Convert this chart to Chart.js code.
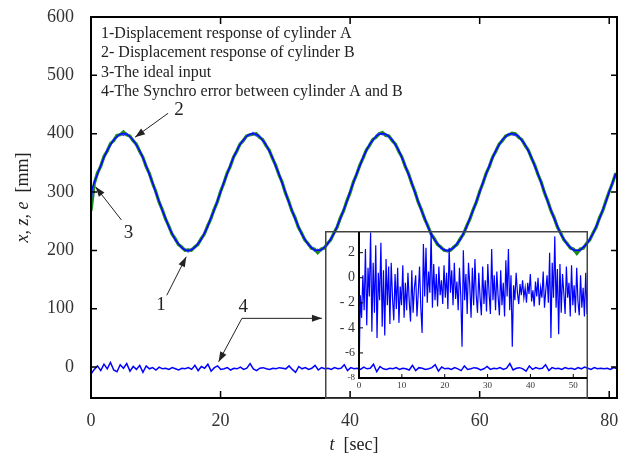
<!DOCTYPE html>
<html>
<head>
<meta charset="utf-8">
<script src="https://cdn.jsdelivr.net/npm/chart.js@4.4.1/dist/chart.umd.min.js"></script>
<style>
html, body { margin: 0; padding: 0; background: #fff; }
#wrap { position: relative; width: 626px; height: 458px; }
#mainChart { position: absolute; left: 0; top: 0; }
#insetChart { position: absolute; left: 325px; top: 231px; }
</style>
</head>
<body>
<div id="wrap">
  <canvas id="mainChart" width="626" height="458"></canvas>
  <canvas id="insetChart" width="263" height="168"></canvas>
</div>
<script>
// displacement curves, one sample every 0.5 s from t = 0
const sampleStep = 0.5;
const idealInput = [
  300,316,331,345,359,371,381,389,395,399,400,399,395,389,381,371,359,345,331,316,300,284,269,255,241,229,219,211,205,201,200,201,205,211,219,229,241,255,269,284,
  300,316,331,345,359,371,381,389,395,399,400,399,395,389,381,371,359,345,331,316,300,284,269,255,241,229,219,211,205,201,200,201,205,211,219,229,241,255,269,284,
  300,316,331,345,359,371,381,389,395,399,400,399,395,389,381,371,359,345,331,316,300,284,269,255,241,229,219,211,205,201,200,201,205,211,219,229,241,255,269,284,
  300,316,331,345,359,371,381,389,395,399,400,399,395,389,381,371,359,345,331,316,300,284,269,255,241,229,219,211,205,201,200,201,205,211,219,229,241,255,269,284,
  300,316,331
];
const cylinderA = [
  285,318,329,347,357,373,379,391,393,400,397,401,394,390,379,372,357,347,329,317,298,286,267,256,239,231,217,212,203,202,197,203,204,213,217,231,239,257,267,286,
  299,318,329,347,360,369,383,387,396,397,402,396,397,387,383,369,361,343,333,314,302,282,271,253,243,227,221,209,207,199,202,199,206,209,221,227,243,253,271,282,
  302,314,333,343,361,369,383,387,397,401,398,400,393,391,379,373,357,347,329,318,298,286,267,257,239,231,217,213,203,203,198,203,203,213,217,231,239,257,267,286,
  298,318,329,347,357,373,379,391,393,400,398,397,397,387,383,369,361,343,333,314,302,282,271,253,243,227,221,209,207,199,201,199,207,209,221,227,243,253,271,282,
  302,314,333
];
const cylinderB = [
  268,314,333,344,361,370,383,388,397,398,403,398,396,388,382,370,360,344,332,315,301,283,270,254,242,228,220,210,206,200,201,200,206,210,220,228,242,254,270,283,
  301,315,332,344,360,370,382,388,396,398,399,400,394,390,380,372,358,346,330,317,299,285,268,256,240,230,218,212,204,202,196,202,204,212,218,230,240,256,268,285,
  299,317,330,346,358,372,380,390,394,400,402,397,396,388,382,370,360,344,332,315,301,283,270,254,242,228,220,210,206,200,199,200,206,210,220,228,242,254,270,283,
  301,315,332,344,360,370,382,388,396,398,401,400,394,390,380,372,358,346,330,317,299,285,268,256,240,230,218,212,204,202,195,202,204,212,218,230,240,256,268,285,
  301,315,332
];
// synchro error, spread evenly over the whole time axis
const syncError = [
  -12,-4,2,-6,5,-3,8,-5,-8,4,-2,6,-7,1,-4,3,-9,2,-3,-1,
  -5,0,-3,-2,-4,-1,-3,-5,-2,-3,-1,-4,3,-6,1,-2,5,-7,-1,2,
  -4,-3,-1,-5,-2,-3,0,-4,-2,6,-3,-6,-2,-1,-3,-4,-2,-3,-1,-2,
  -3,2,-4,-9,1,-3,-1,-4,-2,3,-5,-1,-3,-2,-4,-1,-3,-2,4,-6,
  -1,-3,-2,-4,0,-3,-2,5,-8,1,-3,-4,-2,-3,-1,-4,-2,-3,-5,3,
  -6,-1,-2,-4,-3,-1,4,-7,0,-3,-2,-4,-1,-3,-6,2,-4,-3,-1,-2,
  -5,-3,1,-4,-2,-3,-1,-4,-2,6,-5,-2,-1,-3,-7,2,-4,-1,-3,-2,
  4,-6,-1,-3,-2,-4,-1,-3,-2,-4,-1,-3,0,-2,-4,-1,-3,-2,-3,-2,
  -4,-1,-3
];
// zoomed synchro error shown in the inset, spread over 0..53.2 s
const insetError = [
  -8,-1.4,-3.2,0.2,-2.6,2.3,-3.8,0.8,-1.5,3.6,
  -4.3,1.2,-2.8,2.6,-4.8,0.4,-1.8,2.8,-3.9,0.6,
  -4.6,1.5,-2.2,0.9,-3.7,1.2,-1.6,-3.4,0.3,-2.5,
  0.8,-3.6,-0.7,-2.2,1,-3.2,-0.4,-2.6,0.4,-1.9,
  -3.5,0.6,-2.8,-0.8,0.2,-3.1,-1.2,0.9,-2.4,-4.4,
  2.7,-1.5,2.4,-2,0.5,-1.2,3.6,-2.4,1.1,-1.8,
  0.3,-2.3,0.9,-1.4,-0.2,-2.1,1,-1.6,0.4,-2.5,
  2.4,-1.2,0.6,-2.2,1.2,-1.7,-0.3,-2.6,0.8,-1.4,
  -5.5,2.2,-1.8,0.3,-2.9,1.2,-0.6,-3.2,0.8,-2.2,
  1.5,-1.4,-2.8,0.4,-1.6,-3,0.9,-2.1,-0.2,-2.7,
  1.1,-1.3,-2.9,2.3,-1.8,0.2,-2.6,0.5,-1.5,-3,
  0.6,-2.2,-0.4,-3.1,1.4,-1.5,2.3,-2.6,0.2,-5.5,
  -0.6,-1.8,0.4,-1.2,-2.1,-0.5,-1.4,-0.2,-1.6,-0.8,
  -2,-0.4,-1.3,0.3,-1.9,-1,-2.3,-0.3,-1.5,0,
  -2.2,-0.8,-1.6,0.5,-2.4,-1,0.2,-2,2,-4.8,
  1.2,-1.6,3.3,-2.4,0.7,-4.5,1.1,-2.8,0.3,-1.2,
  -2.9,0.9,-1.6,-0.4,-3.1,1,-2.2,-0.6,-2.8,0.8,
  -1.9,-3,0.2,-2.4,-0.8,-3.1,0.4,-2.9
];

const xTicks = [0, 20, 40, 60, 80];
const yTicks = [0, 100, 200, 300, 400, 500, 600];
const insetXTicks = [0, 10, 20, 30, 40, 50];
const insetYTicks = [-8, -6, -4, -2, 0, 2];
const insetYLabels = ['-8', '-6', '- 4', '- 2', '0', '2'];

const legendLines = [
  '1-Displacement response of cylinder A',
  '2- Displacement response of cylinder B',
  '3-The ideal input',
  '4-The Synchro error between cylinder A and B'
];

const xMax = 81.2, yMin = -53, yMax = 600;
const insetXMax = 53.2, insetYMin = -8, insetYMax = 3.65;

const serif = '"Liberation Serif", "DejaVu Serif", serif';

// numbered callouts: label position, arrow start, arrow tips (data units)
const callouts = [
  { text: '2', at: [13.6, 441], from: [11.9, 435], tips: [[6.8, 394]] },
  { text: '3', at: [5.8, 229], from: [4.7, 252], tips: [[0.7, 309]] },
  { text: '1', at: [10.8, 106], from: [11.7, 123], tips: [[14.7, 189]] },
  { text: '4', at: [23.5, 103], from: [23.3, 83.5], tips: [[35.65, 83.5], [19.7, 9]] }
];

function toPoints(values, step) {
  return values.map((v, i) => ({ x: i * step, y: v }));
}

// keep the plot box exactly where layout.padding and afterFit put it
function noEdgePadding(s) {
  s.paddingTop = 0; s.paddingBottom = 0; s.paddingLeft = 0; s.paddingRight = 0;
}

function arrow(ctx, x1, y1, x2, y2) {
  ctx.beginPath();
  ctx.moveTo(x1, y1);
  ctx.lineTo(x2, y2);
  ctx.stroke();
  const ang = Math.atan2(y2 - y1, x2 - x1);
  const len = 10, half = 3.5;
  ctx.beginPath();
  ctx.moveTo(x2, y2);
  ctx.lineTo(x2 - len * Math.cos(ang) + half * Math.sin(ang), y2 - len * Math.sin(ang) - half * Math.cos(ang));
  ctx.lineTo(x2 - len * Math.cos(ang) - half * Math.sin(ang), y2 - len * Math.sin(ang) + half * Math.cos(ang));
  ctx.closePath();
  ctx.fill();
}

function drawMixed(ctx, parts, cx, cy) {
  let total = 0;
  parts.forEach(p => { ctx.font = p[1] + serif; total += ctx.measureText(p[0]).width; });
  let px = cx - total / 2;
  ctx.textAlign = 'left';
  parts.forEach(p => {
    ctx.font = p[1] + serif;
    ctx.fillText(p[0], px, cy);
    px += ctx.measureText(p[0]).width;
  });
}

const mainDecor = {
  id: 'mainDecor',
  afterDraw(chart) {
    const { ctx, chartArea: a, scales: { x, y } } = chart;
    ctx.save();
    ctx.strokeStyle = '#000';
    ctx.fillStyle = '#000';

    // inward ticks on all four sides
    ctx.lineWidth = 1.5;
    ctx.beginPath();
    xTicks.forEach(v => {
      const px = x.getPixelForValue(v);
      ctx.moveTo(px, a.bottom); ctx.lineTo(px, a.bottom - 7);
      ctx.moveTo(px, a.top); ctx.lineTo(px, a.top + 7);
    });
    yTicks.forEach(v => {
      const py = y.getPixelForValue(v);
      ctx.moveTo(a.left, py); ctx.lineTo(a.left + 6, py);
      ctx.moveTo(a.right, py); ctx.lineTo(a.right - 6, py);
    });
    ctx.stroke();

    // frame
    ctx.lineWidth = 2;
    ctx.strokeRect(a.left, a.top, a.right - a.left, a.bottom - a.top);

    // legend text
    ctx.fillStyle = '#222';
    ctx.font = '16px ' + serif;
    ctx.textAlign = 'left';
    ctx.textBaseline = 'middle';
    legendLines.forEach((s, i) => ctx.fillText(s, a.left + 10, a.top + 16.5 + i * 19.5));

    // callouts
    ctx.fillStyle = '#222';
    ctx.strokeStyle = '#222';
    ctx.lineWidth = 1;
    ctx.font = '19px ' + serif;
    ctx.textAlign = 'center';
    callouts.forEach(c => {
      ctx.fillText(c.text, x.getPixelForValue(c.at[0]), y.getPixelForValue(c.at[1]));
      const fx = x.getPixelForValue(c.from[0]), fy = y.getPixelForValue(c.from[1]);
      c.tips.forEach(t => arrow(ctx, fx, fy, x.getPixelForValue(t[0]), y.getPixelForValue(t[1])));
    });

    // axis titles with italic variables
    ctx.fillStyle = '#222';
    ctx.textBaseline = 'middle';
    drawMixed(ctx, [['t', 'italic 18px '], ['  [sec]', '18px ']], (a.left + a.right) / 2, a.bottom + 47);
    ctx.save();
    ctx.translate(23, (a.top + a.bottom) / 2 - 10);
    ctx.rotate(-Math.PI / 2);
    drawMixed(ctx, [['x, z, e', 'italic 18px '], ['  [mm]', '18px ']], 0, 0);
    ctx.restore();

    ctx.restore();
  }
};

new Chart(document.getElementById('mainChart').getContext('2d'), {
  type: 'line',
  data: {
    datasets: [
      { label: 'The ideal input', data: toPoints(idealInput, sampleStep), borderColor: '#0000ff', borderWidth: 1.3, tension: 0.4 },
      { label: 'Cylinder A', data: toPoints(cylinderA, sampleStep), borderColor: '#3346ff', borderWidth: 1.4, tension: 0 },
      { label: 'Cylinder B', data: toPoints(cylinderB, sampleStep), borderColor: '#1a8a1a', borderWidth: 3.2, tension: 0 },
      { label: 'Synchro error', data: toPoints(syncError, xMax / (syncError.length - 1)), borderColor: '#0000ff', borderWidth: 1.5, tension: 0 }
    ]
  },
  options: {
    responsive: false,
    animation: false,
    events: [],
    layout: { padding: { top: 17, right: 9, left: 0, bottom: 0 } },
    elements: { point: { radius: 0 } },
    plugins: { legend: { display: false }, tooltip: { enabled: false } },
    scales: {
      x: {
        type: 'linear',
        min: 0,
        max: xMax,
        afterBuildTicks: s => { s.ticks = xTicks.map(v => ({ value: v })); },
        afterFit: s => { s.height = 60; noEdgePadding(s); },
        grid: { display: false, drawTicks: false },
        border: { display: false },
        ticks: { color: '#333', font: { family: serif, size: 18 }, padding: 12, maxRotation: 0 }
      },
      y: {
        type: 'linear',
        min: yMin,
        max: yMax,
        afterBuildTicks: s => { s.ticks = yTicks.map(v => ({ value: v })); },
        afterFit: s => { s.width = 91; noEdgePadding(s); },
        grid: { display: false, drawTicks: false },
        border: { display: false },
        ticks: { color: '#333', font: { family: serif, size: 18 }, padding: 17 }
      }
    }
  },
  plugins: [mainDecor]
});

const insetDecor = {
  id: 'insetDecor',
  afterDraw(chart) {
    const { ctx, chartArea: a, scales: { x, y }, width, height } = chart;
    ctx.save();
    ctx.strokeStyle = '#444';
    ctx.lineWidth = 1.5;
    ctx.strokeRect(0.75, 0.75, width - 1.5, height - 1.5);

    ctx.strokeStyle = '#000';
    ctx.lineWidth = 1;
    ctx.beginPath();
    insetXTicks.forEach(v => {
      const px = x.getPixelForValue(v);
      ctx.moveTo(px, a.bottom); ctx.lineTo(px, a.bottom - 4);
    });
    insetYTicks.forEach(v => {
      const py = y.getPixelForValue(v);
      ctx.moveTo(a.left, py); ctx.lineTo(a.left + 4, py);
    });
    ctx.stroke();

    ctx.lineWidth = 2;
    ctx.beginPath();
    ctx.moveTo(a.left, a.top);
    ctx.lineTo(a.left, a.bottom);
    ctx.lineTo(a.right, a.bottom);
    ctx.stroke();
    ctx.restore();
  }
};

new Chart(document.getElementById('insetChart').getContext('2d'), {
  type: 'line',
  data: {
    datasets: [
      { label: 'Synchro error (zoom)', data: toPoints(insetError, insetXMax / (insetError.length - 1)), borderColor: '#0000ff', borderWidth: 1.2, tension: 0 }
    ]
  },
  options: {
    responsive: false,
    animation: false,
    events: [],
    layout: { padding: { top: 1, right: 1, left: 0, bottom: 0 } },
    elements: { point: { radius: 0 } },
    plugins: { legend: { display: false }, tooltip: { enabled: false } },
    scales: {
      x: {
        type: 'linear',
        min: 0,
        max: insetXMax,
        afterBuildTicks: s => { s.ticks = insetXTicks.map(v => ({ value: v })); },
        afterFit: s => { s.height = 21; noEdgePadding(s); },
        grid: { display: false, drawTicks: false },
        border: { display: false },
        ticks: { color: '#333', font: { family: serif, size: 9 }, padding: 2, maxRotation: 0 }
      },
      y: {
        type: 'linear',
        min: insetYMin,
        max: insetYMax,
        afterBuildTicks: s => { s.ticks = insetYTicks.map(v => ({ value: v })); },
        afterFit: s => { s.width = 34; noEdgePadding(s); },
        grid: { display: false, drawTicks: false },
        border: { display: false },
        ticks: {
          color: '#333',
          padding: 4,
          callback: v => insetYLabels[insetYTicks.indexOf(v)],
          font: c => ({ family: serif, size: c.tick && c.tick.value === -8 ? 9 : (c.tick && c.tick.value === -6 ? 12 : 14) })
        }
      }
    }
  },
  plugins: [insetDecor]
});
</script>
</body>
</html>
